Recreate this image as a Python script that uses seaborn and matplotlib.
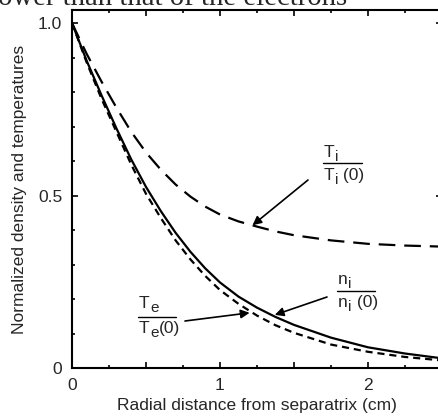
import matplotlib
matplotlib.use("Agg")
import matplotlib.pyplot as plt
from matplotlib.lines import Line2D
from matplotlib.ticker import MultipleLocator, FixedFormatter, FixedLocator
import seaborn as sns
import pandas as pd

# -----------------------------
# Data
# -----------------------------
radius_cm = [0, 0.1, 0.2, 0.3, 0.4, 0.5, 0.6, 0.7, 0.8, 0.9, 1.0,
             1.125, 1.25, 1.375, 1.5, 1.75, 2.0, 2.25, 2.5]
ti_norm = [1.0, 0.91, 0.83, 0.755, 0.685, 0.625, 0.575, 0.532, 0.497, 0.468, 0.445,
           0.425, 0.41, 0.396, 0.385, 0.37, 0.36, 0.355, 0.352]
ni_norm = [1.0, 0.89, 0.79, 0.695, 0.605, 0.525, 0.455, 0.392, 0.337, 0.289, 0.248,
           0.207, 0.175, 0.148, 0.125, 0.088, 0.06, 0.042, 0.028]
te_norm = [1.0, 0.885, 0.78, 0.685, 0.59, 0.505, 0.435, 0.37, 0.315, 0.267, 0.226,
           0.186, 0.152, 0.124, 0.102, 0.068, 0.047, 0.032, 0.022]

df = pd.DataFrame({"r": radius_cm, "Ti": ti_norm, "ni": ni_norm, "Te": te_norm})

# -----------------------------
# Style
# -----------------------------
sns.set_theme(style="ticks")
plt.rcParams["font.family"] = ["Liberation Sans", "DejaVu Sans"]
plt.rcParams.update({
    "axes.edgecolor": "black",
    "axes.linewidth": 1.5,
})

W, H = 438, 419
fig = plt.figure(figsize=(W / 100, H / 100), dpi=100)
fig.patch.set_facecolor("white")


def fx(px):
    return px / W


def fy(py):
    return 1 - py / H


ax = fig.add_axes([fx(72), 51 / H, 370 / W, 358 / H])

sns.lineplot(data=df, x="r", y="Ti", ax=ax, color="black", lw=1.6, ls=(0, (7.5, 4)))
sns.lineplot(data=df, x="r", y="ni", ax=ax, color="black", lw=1.6)
sns.lineplot(data=df, x="r", y="Te", ax=ax, color="black", lw=1.6, ls=(0, (3.2, 2.2)))

ax.set_xlim(0, 2.5)
ax.set_ylim(0, 1.038)

# Ticks: inward on all four sides
ax.xaxis.set_major_locator(FixedLocator([0, 0.5, 1, 1.5, 2, 2.5]))
ax.xaxis.set_major_formatter(FixedFormatter(["0", "", "1", "", "2", ""]))
ax.xaxis.set_minor_locator(MultipleLocator(0.25))
ax.yaxis.set_major_locator(FixedLocator([0, 0.5, 1.0]))
ax.yaxis.set_major_formatter(FixedFormatter(["0", "0.5", "1.0"]))
ax.yaxis.set_minor_locator(MultipleLocator(0.1))
ax.tick_params(which="both", direction="in", top=True, right=True, color="black", width=1.2)
ax.tick_params(which="major", length=4.5, labelsize=12.5, pad=7)
ax.tick_params(which="minor", length=2.5)

ax.set_xlabel("Radial distance from separatrix (cm)", fontsize=12.5, labelpad=4)
ax.set_ylabel("Normalized density and temperatures", fontsize=12.5, labelpad=8)
ax.grid(False)

# -----------------------------
# Fraction labels with arrows
# -----------------------------
FS = 12.5
SUB = 11


def term(left, base, sym, sub, tail=""):
    # main letter, subscript slightly lowered, optional "(0)"
    t = fig.text(fx(left), fy(base), sym, fontsize=FS, va="baseline", ha="left")
    fig.canvas.draw()
    bb = t.get_window_extent()
    s = fig.text(bb.x1 / W + 0.5 / W, fy(base + 4), sub, fontsize=SUB, va="baseline", ha="left")
    if tail:
        bb2 = s.get_window_extent()
        fig.text(bb2.x1 / W, fy(base), tail, fontsize=FS, va="baseline", ha="left")


def fraction(left, right, line_y, sym, sub, tail, num_base, den_base):
    term(left + 1, num_base, sym, sub)
    term(left + 1, den_base, sym, sub, tail)
    fig.add_artist(Line2D([fx(left), fx(right)], [fy(line_y), fy(line_y)],
                          transform=fig.transFigure, color="black", lw=1.0))


fraction(323, 362, 163, "T", "i", " (0)", 157, 180)
fraction(337, 375, 291, "n", "i", " (0)", 284, 307)
fraction(138, 176, 317, "T", "e", "(0)", 308, 333)

arrow = dict(arrowstyle="-|>", color="black", lw=1.2, mutation_scale=13, shrinkA=0, shrinkB=0)
ax.annotate("", xy=(1.22, 0.414), xycoords="data",
            xytext=(fx(308), fy(180)), textcoords="figure fraction", arrowprops=arrow)
ax.annotate("", xy=(1.37, 0.154), xycoords="data",
            xytext=(fx(327), fy(297)), textcoords="figure fraction", arrowprops=arrow)
ax.annotate("", xy=(1.20, 0.160), xycoords="data",
            xytext=(fx(185), fy(321)), textcoords="figure fraction", arrowprops=arrow)

# Caption fragment cut off at the top of the figure, as in the source page
fig.text(fx(-2), fy(5), "ower than that of the electrons", family="Liberation Serif",
         fontsize=20.7, va="baseline", ha="left")

fig.savefig("out.png", dpi=100, facecolor="white")
